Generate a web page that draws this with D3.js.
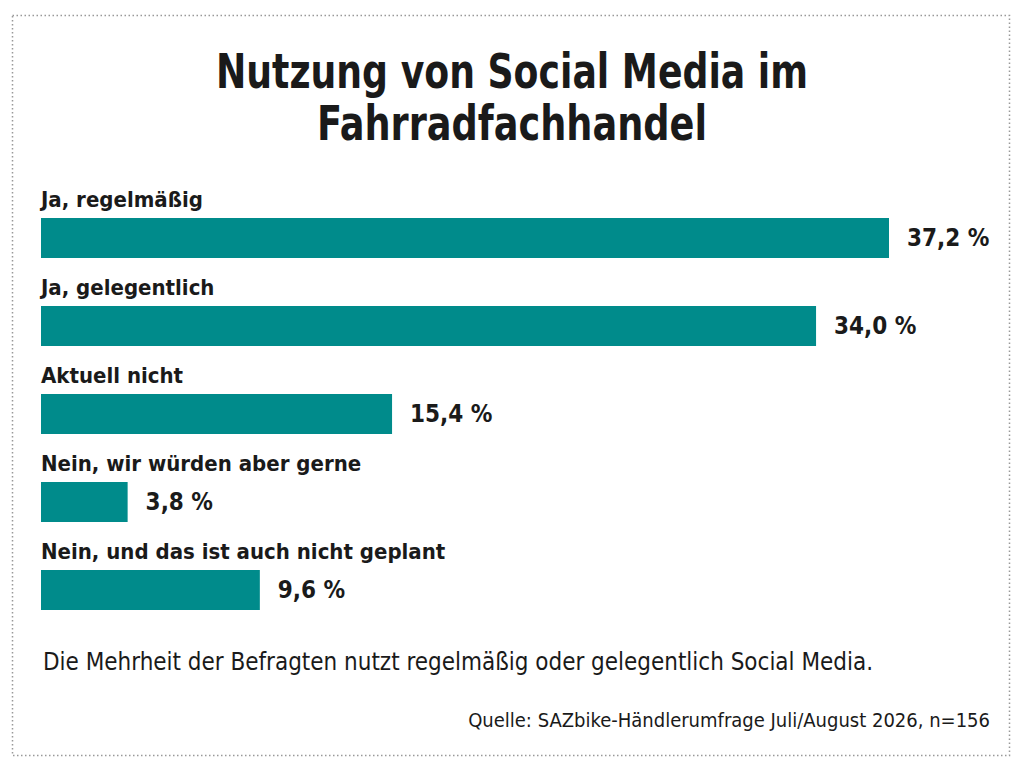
<!DOCTYPE html>
<html>
<head>
<meta charset="utf-8">
<script src="https://cdn.jsdelivr.net/npm/d3@7"></script>
<style>
  body { margin: 0; background: #fff; }
  svg { display: block; }
</style>
</head>
<body>
<script>
const categories = [
  "Ja, regelmäßig",
  "Ja, gelegentlich",
  "Aktuell nicht",
  "Nein, wir würden aber gerne",
  "Nein, und das ist auch nicht geplant"
];
const values = [37.2, 34.0, 15.4, 3.8, 9.6];
const titleLines = ["Nutzung von Social Media im", "Fahrradfachhandel"];
const note = "Die Mehrheit der Befragten nutzt regelmäßig oder gelegentlich Social Media.";
const source = "Quelle: SAZbike-Händlerumfrage Juli/August 2026, n=156";

const width = 1024, height = 770;
const font = "'DejaVu Sans Condensed', 'Roboto', sans-serif";
const teal = "#008b8b";
const ink = "#1a1a1a";

const svg = d3.select("body").append("svg")
    .attr("width", width)
    .attr("height", height)
    .attr("font-family", font)
    .attr("fill", ink);

// dotted frame
svg.append("rect")
    .attr("x", 12.5).attr("y", 15.5)
    .attr("width", 997).attr("height", 740)
    .attr("fill", "none")
    .attr("stroke", "#999")
    .attr("stroke-width", 1.5)
    .attr("stroke-dasharray", "1.5,2.5");

// squeeze text into the width it takes in the original
function fit(sel, w) {
  sel.each(function(d, i) {
    const target = typeof w === "function" ? w(d, i) : w;
    const len = this.getComputedTextLength();
    if (len > target) d3.select(this).attr("textLength", target).attr("lengthAdjust", "spacingAndGlyphs");
  });
}

const titleWidths = [592, 390];

svg.append("g")
    .attr("text-anchor", "middle")
    .attr("font-weight", "bold")
    .attr("font-size", 48)
  .selectAll("text")
  .data(titleLines)
  .join("text")
    .attr("x", width / 2)
    .attr("y", (d, i) => 88 + i * 52)
    .text(d => d)
    .call(fit, (d, i) => titleWidths[i]);

const x = d3.scaleLinear()
    .domain([0, 37.2])
    .range([41, 889]);

const y = d3.scaleBand()
    .domain(categories)
    .range([174, 614]);

const row = svg.append("g")
  .selectAll("g")
  .data(categories.map((c, i) => ({c, v: values[i]})))
  .join("g")
    .attr("transform", d => `translate(0,${y(d.c)})`);

row.append("text")
    .attr("x", 41)
    .attr("y", 33)
    .attr("font-size", 22)
    .attr("font-weight", "bold")
    .text(d => d.c);

row.append("rect")
    .attr("x", x(0))
    .attr("y", 44)
    .attr("width", d => x(d.v) - x(0))
    .attr("height", 40)
    .attr("fill", teal);

row.append("text")
    .attr("x", d => x(d.v) + 18)
    .attr("y", 64)
    .attr("dy", "0.35em")
    .attr("font-size", 24)
    .attr("font-weight", "bold")
    .text(d => d3.format(".1f")(d.v).replace(".", ",") + " %");

svg.append("text")
    .attr("x", 43)
    .attr("y", 670)
    .attr("font-size", 24)
    .text(note)
    .call(fit, 830);

svg.append("text")
    .attr("x", 990)
    .attr("y", 727)
    .attr("text-anchor", "end")
    .attr("font-size", 20)
    .text(source)
    .call(fit, 524);
</script>
</body>
</html>
